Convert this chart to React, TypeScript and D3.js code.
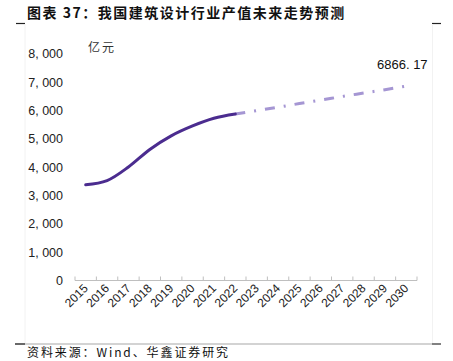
import React from "react";
import * as d3 from "d3";

const years = ["2015","2016","2017","2018","2019","2020","2021","2022","2023","2024","2025","2026","2027","2028","2029","2030"];
const actualYears = ["2015","2016","2017","2018","2019","2020","2021","2022"];
const actualValues = [3380, 3530, 4010, 4630, 5110, 5460, 5730, 5880];
const forecastYears = ["2022","2023","2024","2025","2026","2027","2028","2029","2030"];
const forecastValues = [5880, 6000, 6120, 6250, 6370, 6500, 6620, 6740, 6866.17];
const yTicks = [0, 1000, 2000, 3000, 4000, 5000, 6000, 7000, 8000];
const title = "图表 37：我国建筑设计行业产值未来走势预测";
const unitLabel = "亿元";
const endLabel = "6866. 17";
const source = "资料来源：Wind、华鑫证券研究";

export default function App() {
  const W = 453, H = 361;
  const x = d3.scaleBand<string>().domain(years).range([75, 417]).padding(0);
  const y = d3.scaleLinear().domain([0, 8000]).range([280.5, 54]);
  const cx = (yr: string) => (x(yr) as number) + x.bandwidth() / 2;
  const line = d3.line<[string, number]>().x(d => cx(d[0])).y(d => y(d[1])).curve(d3.curveMonotoneX);
  const actual = actualYears.map((yr, i) => [yr, actualValues[i]] as [string, number]);
  const forecast = forecastYears.map((yr, i) => [yr, forecastValues[i]] as [string, number]);
  const edges = years.map(yr => x(yr) as number).concat([x.range()[1]]);
  const fmt = (v: number) => d3.format(",")(v).replace(",", ", ");
  const lastYr = forecastYears[forecastYears.length - 1];
  const lastV = forecastValues[forecastValues.length - 1];
  const latin = "'Liberation Sans', Arial, sans-serif";
  const cjk = "'Noto Sans CJK SC', sans-serif";
  return (
    <svg width={W} height={H} style={{ position: "absolute", left: 0, top: 0, background: "#fff" }}>
      <text x={27} y={18} fontFamily={cjk} fontWeight={700} fontSize={14} letterSpacing={1.5} fill="#111">{title}</text>
      {/* frame */}
      <line x1={16} x2={25} y1={23.5} y2={23.5} stroke="#222" strokeWidth={1.2} />
      <line x1={432} x2={441} y1={23.5} y2={23.5} stroke="#222" strokeWidth={1.2} />
      <line x1={25} x2={25} y1={24} y2={343} stroke="#f2f2f2" strokeWidth={1} />
      <line x1={432.5} x2={432.5} y1={24} y2={343} stroke="#f2f2f2" strokeWidth={1} />
      <line x1={15} x2={441} y1={344} y2={344} stroke="#c4c4c4" strokeWidth={1.5} />
      <line x1={15} x2={25} y1={344} y2={344} stroke="#444" strokeWidth={1.5} />
      <line x1={432} x2={441} y1={344} y2={344} stroke="#666" strokeWidth={1.5} />
      {/* y labels */}
      {yTicks.map(t => (
        <text key={t} x={63} y={y(t)} dy="0.35em" textAnchor="end" fontFamily={latin} fontSize={12.5} fill="#222">{fmt(t)}</text>
      ))}
      <text x={88} y={52} fontFamily={cjk} fontSize={12} fill="#333" letterSpacing={2}>{unitLabel}</text>
      {/* x axis */}
      <line x1={x.range()[0]} x2={x.range()[1]} y1={280.5} y2={280.5} stroke="#bfbfbf" strokeWidth={1} />
      {edges.map((e, i) => (
        <line key={i} x1={e} x2={e} y1={276.5} y2={280.5} stroke="#bfbfbf" strokeWidth={1} />
      ))}
      {years.map(yr => (
        <text key={yr} transform={`translate(${cx(yr) + 3},${289}) rotate(-45)`} textAnchor="end" fontFamily={latin} fontSize={12} fill="#222">{yr}</text>
      ))}
      {/* lines */}
      <path d={line(forecast) || ""} fill="none" stroke="#a596d3" strokeWidth={3} strokeDasharray="10 9 2 9" />
      <path d={line(actual) || ""} fill="none" stroke="#4b2c8f" strokeWidth={3} strokeLinecap="round" />
      <text x={cx(lastYr) - 4} y={y(lastV) - 17} textAnchor="middle" fontFamily={latin} fontSize={13} fill="#111">{endLabel}</text>
      <text x={27} y={357} fontFamily={cjk} fontSize={12} letterSpacing={1.9} fill="#111">{source}</text>
    </svg>
  );
}
